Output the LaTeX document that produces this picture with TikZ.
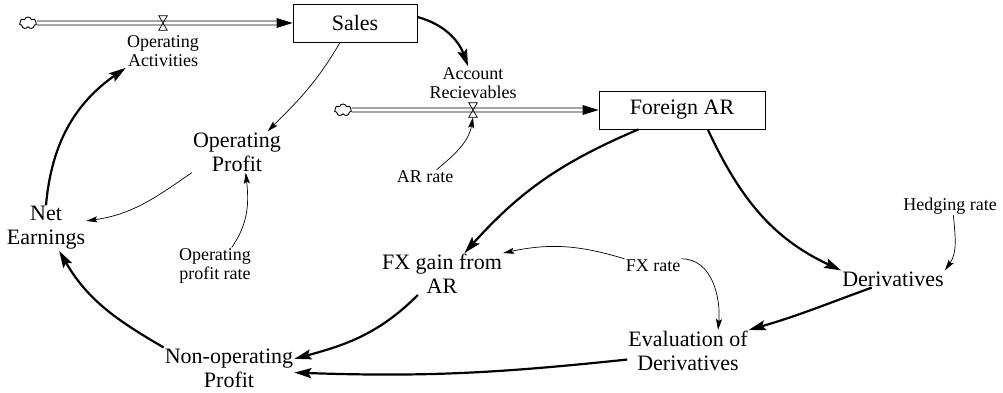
\documentclass[tikz,border=0pt]{standalone}
\usepackage{fontspec}
\setmainfont{Liberation Serif}
\usetikzlibrary{arrows.meta,shapes.symbols}
\begin{document}
\begin{tikzpicture}[x=1pt,y=-1pt,
 big/.style={font=\fontsize{22}{24}\selectfont, align=center, inner sep=1pt},
 small/.style={font=\fontsize{18}{19}\selectfont, align=center, inner sep=1pt},
 stock/.style={draw, line width=0.8pt, minimum width=124pt, minimum height=38pt, inner sep=0pt, font=\fontsize{22}{24}\selectfont},
 thinarrow/.style={line width=0.7pt, -{Stealth[length=11pt,width=6pt,inset=2pt]}},
 thickarrow/.style={line width=2.2pt, -{Stealth[length=17pt,width=10pt,inset=3pt]}},
 pipe/.style={line width=0.8pt},
 cloudnode/.style={cloud, cloud puffs=7, cloud puff arc=150, aspect=1.5, draw, line width=0.9pt, minimum width=17pt, minimum height=12pt, inner sep=0pt},
 valve/.style={minimum width=8pt, minimum height=14pt, inner sep=0pt},
 valvedraw/.style={line width=0.7pt},
]
\useasboundingbox (0,0) rectangle (1003,393);

% stocks, clouds, valves
\node[stock] (sales) at (355,23) {Sales};
\node[stock, minimum width=166pt] (far) at (682,110) {Foreign AR};
\node[cloudnode] (c1) at (28,23) {};
\node[cloudnode] (c2) at (343,110) {};
\node[valve] (v1) at (163,23) {};
\node[valve] (v2) at (473,110) {};

% pipes
\draw[pipe] ([yshift=2pt]c1.east) -- ([xshift=-16pt,yshift=2pt]sales.west);
\draw[pipe] ([yshift=-2pt]c1.east) -- ([xshift=-16pt,yshift=-2pt]sales.west);
\fill (sales.west) -- ++(-16,-5) -- ++(0,10) -- cycle;
\draw[pipe] ([yshift=2pt]c2.east) -- ([xshift=-16pt,yshift=2pt]far.west);
\draw[pipe] ([yshift=-2pt]c2.east) -- ([xshift=-16pt,yshift=-2pt]far.west);
\fill (far.west) -- ++(-16,-5) -- ++(0,10) -- cycle;
\draw[valvedraw] (v1.north west) -- (v1.north east) -- (v1.south west) -- (v1.south east) -- cycle;
\draw[valvedraw] (v2.north west) -- (v2.north east) -- (v2.south west) -- (v2.south east) -- cycle;

% variables
\node[small] (opact) at (163,51) {Operating\\Activities};
\node[small] (accrec) at (473,83) {Account\\Recievables};
\node[big] (opprofit) at (237,152) {Operating\\Profit};
\node[big] (net) at (46,228) {Net\\Earnings};
\node[small] (oprate) at (215,266) {Operating\\profit rate};
\node[small] (arrate) at (425,177) {AR rate};
\node[big] (fxgain) at (442,274) {FX gain from\\AR};
\node[small] (fxrate) at (653,266) {FX rate};
\node[big] (eval) at (688,351) {Evaluation of\\Derivatives};
\node[big] (deriv) at (893,279) {Derivatives};
\node[small] (hedge) at (950,206) {Hedging rate};
\node[big] (nonop) at (229,368) {Non-operating\\Profit};

% connectors
\draw[thickarrow] ([yshift=6pt]sales.east) to[out=-15,in=110] ([xshift=-5pt]accrec.north);
\draw[thinarrow] ([xshift=-15pt]sales.south) to[out=-120,in=45] (opprofit.34);
\draw[thinarrow] (opprofit.south west) to[out=215,in=8] (net.10);
\draw[thinarrow] (oprate.48) to[out=55,in=-84] (opprofit.-67);
\draw[thickarrow] (net.north) to[out=85,in=215] (opact.south west);
\draw[thickarrow] (nonop.north west) to[out=150,in=-60] (net.-60);
\draw[thickarrow] (fxgain.221) to[out=225,in=15] (nonop.8);
\draw[thickarrow] (eval.188) to[out=186,in=-2] (nonop.-4);
\draw[thickarrow] (far.204) to[out=203,in=48] (fxgain.43);
\draw[thickarrow] (far.-37) to[out=-65,in=155] (deriv.north west);
\draw[thickarrow] (deriv.202) to[out=200,in=16] (eval.north east);
\draw[thinarrow] (fxrate.north west) to[out=163,in=12] (fxgain.north east);
\draw[thinarrow] (fxrate.north east) to[out=0,in=85] (eval.35);
\draw[thinarrow] (hedge.-70) to[out=-85,in=55] (deriv.north east);
\draw[thinarrow] (arrate.32) to[out=40,in=-100] (v2.south);
\end{tikzpicture}
\end{document}
